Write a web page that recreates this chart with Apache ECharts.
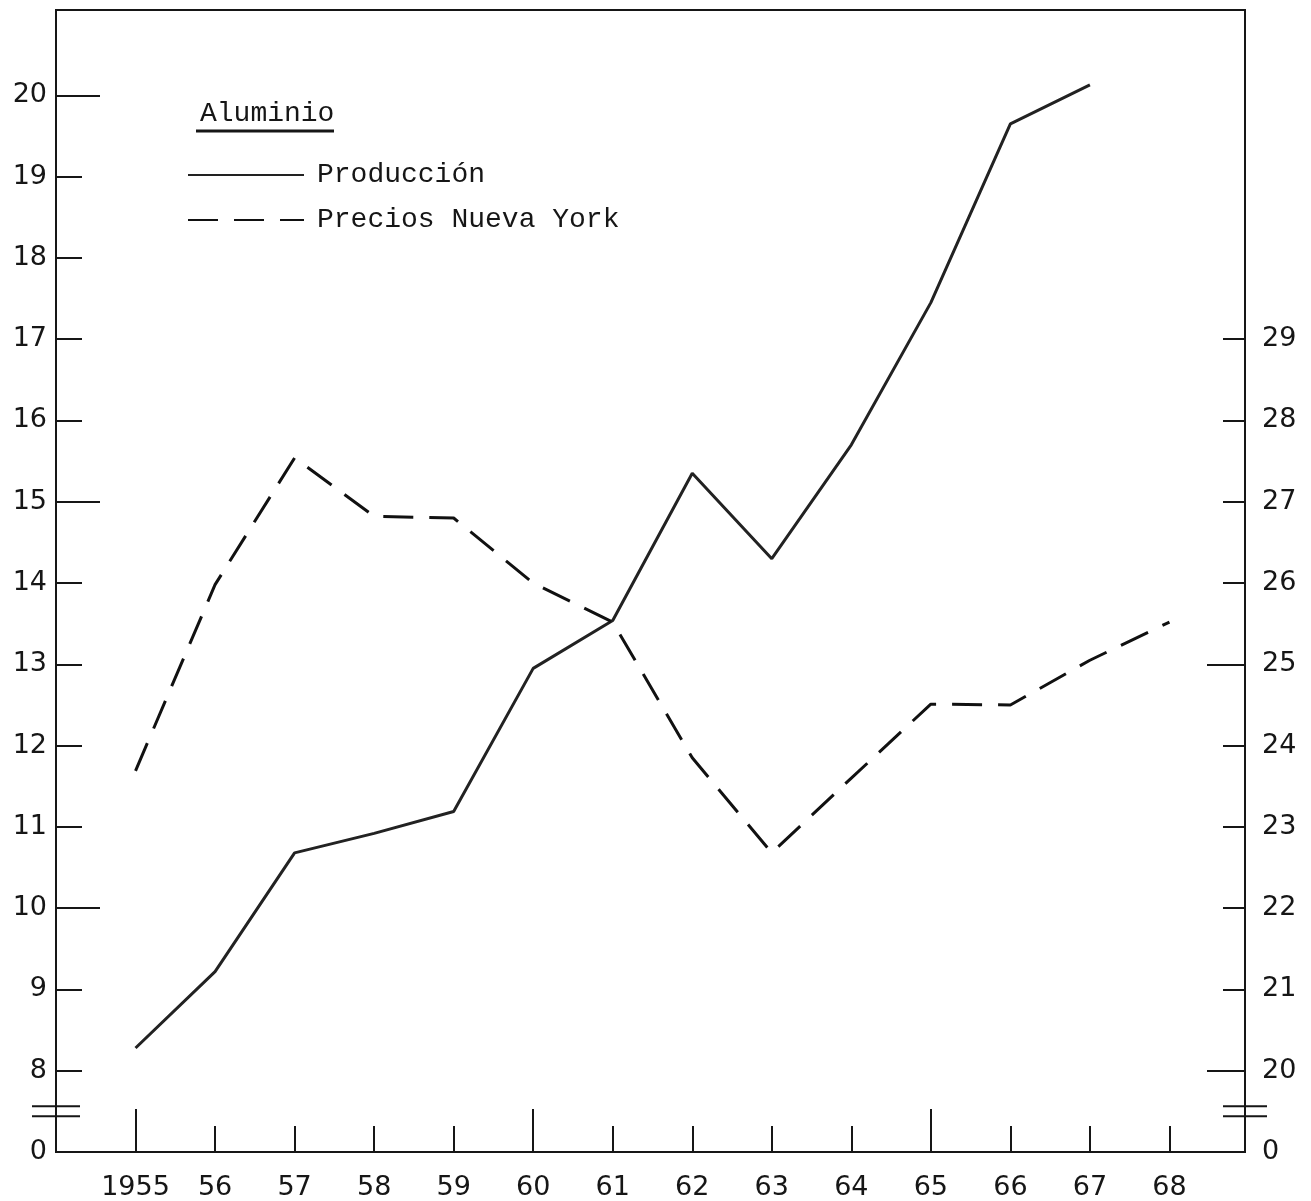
<!DOCTYPE html>
<html lang="es">
<head>
<meta charset="UTF-8">
<title>Aluminio</title>
<script src="https://cdn.jsdelivr.net/npm/echarts@6.0.0/dist/echarts.min.js"></script>
</head>
<body style="margin:0;background:#fff">
<div id="container" style="width:1311px;height:1201px"></div>
<script type="text/javascript">
// data
var years = [1955, 1956, 1957, 1958, 1959, 1960, 1961, 1962, 1963, 1964, 1965, 1966, 1967, 1968];
var yearLabels = ['1955', '56', '57', '58', '59', '60', '61', '62', '63', '64', '65', '66', '67', '68'];
var produccion = [8.28, 9.22, 10.68, 10.92, 11.19, 12.95, 13.54, 15.35, 14.3, 15.7, 17.45, 19.65, 20.13];
var precios = [23.69, 25.98, 27.54, 26.82, 26.8, 26.0, 25.52, 23.85, 22.68, 23.6, 24.51, 24.5, 25.05, 25.52];
var leftTicks = [8, 9, 10, 11, 12, 13, 14, 15, 16, 17, 18, 19, 20];
var rightTicks = [20, 21, 22, 23, 24, 25, 26, 27, 28, 29];
var leftZero = 7;   // bottom of the broken left scale, labelled 0
var rightZero = 19; // bottom of the broken right scale, labelled 0

var ink = '#161616';

var dom = document.getElementById('container');
var myChart = echarts.init(dom, null, {renderer: 'canvas'});

function pairs(vals) {
    return vals.map(function (v, i) { return [years[i], v]; });
}

var option = {
    backgroundColor: '#fff',
    animation: false,
    grid: {left: 56, right: 66, top: 10, bottom: 48, show: true, borderColor: ink, borderWidth: 2},
    title: {
        text: 'Aluminio', left: 195, top: 95,
        textStyle: {fontFamily: 'Liberation Mono', fontSize: 28, fontWeight: 'normal', color: ink}
    },
    legend: {
        orient: 'vertical', left: 187, top: 159, padding: 0,
        itemWidth: 116, itemHeight: 14, itemGap: 13,
        itemStyle: {opacity: 0},
        textStyle: {fontFamily: 'Liberation Mono', fontSize: 28, color: ink, lineHeight: 32, padding: [0, 0, 0, 8]},
        data: ['Producción', 'Precios Nueva York']
    },
    xAxis: [{
        type: 'value', min: 1954, max: 1968.95,
        axisLine: {lineStyle: {color: ink, width: 2}},
        axisTick: {inside: true, length: 26, lineStyle: {color: ink, width: 2}, customValues: years},
        axisLabel: {
            customValues: years, margin: 22, color: ink, fontFamily: 'DejaVu Sans', fontSize: 27,
            formatter: function (v) { return yearLabels[years.indexOf(v)]; }
        },
        splitLine: {show: false}
    }, {
        type: 'value', min: 1954, max: 1968.95, position: 'bottom',
        axisLine: {show: false},
        axisTick: {inside: true, length: 43, lineStyle: {color: ink, width: 2}, customValues: [1955, 1960, 1965]},
        axisLabel: {show: false},
        splitLine: {show: false}
    }],
    yAxis: [{
        type: 'value', min: leftZero, max: 21.05, position: 'left',
        axisLine: {show: true, lineStyle: {color: ink, width: 2}},
        axisTick: {inside: true, length: 26, lineStyle: {color: ink, width: 2}, customValues: leftTicks},
        axisLabel: {
            customValues: [leftZero].concat(leftTicks), margin: 9, color: ink, fontFamily: 'DejaVu Sans', fontSize: 27,
            formatter: function (v) { return v === leftZero ? '0' : String(v); }
        },
        splitLine: {show: false}
    }, {
        type: 'value', min: rightZero, max: 33.05, position: 'right',
        axisLine: {show: true, lineStyle: {color: ink, width: 2}},
        axisTick: {inside: true, length: 22, lineStyle: {color: ink, width: 2}, customValues: rightTicks},
        axisLabel: {
            customValues: [rightZero].concat(rightTicks), margin: 17, color: ink, fontFamily: 'DejaVu Sans', fontSize: 27,
            formatter: function (v) { return v === rightZero ? '0' : String(v); }
        },
        splitLine: {show: false}
    }, {
        type: 'value', min: leftZero, max: 21.05, position: 'left',
        axisLine: {show: false},
        axisTick: {inside: true, length: 44, lineStyle: {color: ink, width: 2}, customValues: [10, 15, 20]},
        axisLabel: {show: false},
        splitLine: {show: false}
    }, {
        type: 'value', min: rightZero, max: 33.05, position: 'right',
        axisLine: {show: false},
        axisTick: {inside: true, length: 38, lineStyle: {color: ink, width: 2}, customValues: [20, 25]},
        axisLabel: {show: false},
        splitLine: {show: false}
    }],
    series: [{
        name: 'Producción', type: 'line', yAxisIndex: 0, symbol: 'none',
        lineStyle: {color: '#222', width: 3},
        itemStyle: {color: '#222'},
        data: pairs(produccion)
    }, {
        name: 'Precios Nueva York', type: 'line', yAxisIndex: 1, symbol: 'none',
        lineStyle: {color: '#111', width: 3, type: [30, 16]},
        itemStyle: {color: '#111'},
        data: pairs(precios)
    }]
};

myChart.setOption(option);

// underline of the title and the axis break marks
function breakMark(x, yMid, half) {
    var g = [];
    g.push({type: 'rect', shape: {x: x - 4, y: yMid - 4, width: 8, height: 8}, style: {fill: '#fff'}});
    g.push({type: 'line', shape: {x1: x - half, y1: yMid - 5, x2: x + half, y2: yMid - 5}, style: {stroke: ink, lineWidth: 2}});
    g.push({type: 'line', shape: {x1: x - half, y1: yMid + 5, x2: x + half, y2: yMid + 5}, style: {stroke: ink, lineWidth: 2}});
    return g;
}
var xl = myChart.convertToPixel({xAxisIndex: 0}, 1954);
var xr = myChart.convertToPixel({xAxisIndex: 0}, 1968.95);
var yb = myChart.convertToPixel({yAxisIndex: 0}, 7.5);
var els = [{type: 'line', shape: {x1: 196, y1: 131, x2: 334, y2: 131}, style: {stroke: ink, lineWidth: 3}}];
els = els.concat(breakMark(xl, yb, 24), breakMark(xr, yb, 22));
myChart.setOption({graphic: els});

window.addEventListener('resize', myChart.resize);
</script>
</body>
</html>
